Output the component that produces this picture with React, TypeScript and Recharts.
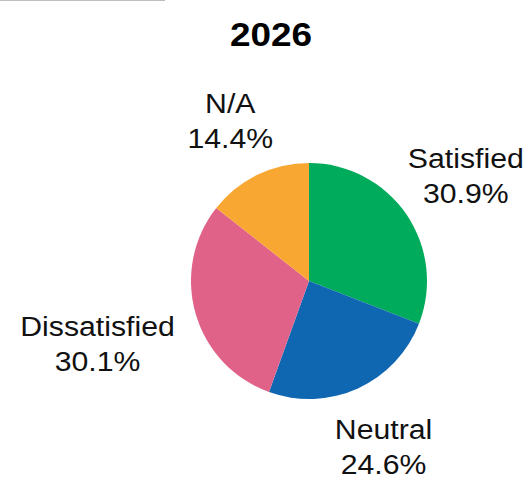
import React from "react";
import { PieChart, Pie, Cell } from "recharts";

const categories = ["Satisfied", "Neutral", "Dissatisfied", "N/A"];
const shares = [30.9, 24.6, 30.1, 14.4];
const colors = ["#00AB5B", "#0F66B1", "#E06288", "#F8A733"];

const data = categories.map((name, i) => ({ name, value: shares[i] }));

const RAD = Math.PI / 180;
const FONT = "'Liberation Sans', Arial, sans-serif";
// the source font renders a little wider than Liberation Sans
const WIDEN = 1.12;

const renderLabel = (props: any) => {
  const { cx, cy, midAngle, outerRadius, name, value } = props;
  // longer names sit a bit further out so they clear the pie
  const dist = outerRadius + 62 + Math.max(0, name.length - 8) * 10;
  const x = cx + dist * Math.cos(-midAngle * RAD);
  const y = cy + dist * Math.sin(-midAngle * RAD);
  return (
    <g transform={`translate(${x},${y}) scale(${WIDEN},1)`}>
      <text x={0} y={0} textAnchor="middle" fill="#111" fontSize={27} fontFamily={FONT}>
        <tspan x={0} dy={-6}>{name}</tspan>
        <tspan x={0} dy={35}>{`${value.toFixed(1)}%`}</tspan>
      </text>
    </g>
  );
};

export default function App() {
  return (
    <div
      style={{
        position: "fixed",
        top: 0,
        left: 0,
        width: 532,
        height: 487,
        background: "#fff",
        fontFamily: FONT,
      }}
    >
      <div style={{ position: "absolute", top: 0, left: 0, width: 165, height: 1, background: "#bdbdbd" }} />
      <PieChart width={532} height={487} margin={{ top: 0, right: 0, bottom: 0, left: 0 }}>
        <text
          transform={`translate(271,46) scale(${WIDEN},1)`}
          textAnchor="middle"
          fontSize={33}
          fontWeight="bold"
          fill="#000"
          fontFamily={FONT}
        >
          2026
        </text>
        <Pie
          data={data}
          dataKey="value"
          nameKey="name"
          cx={309}
          cy={281}
          outerRadius={118}
          startAngle={90}
          endAngle={-270}
          stroke="none"
          label={renderLabel}
          labelLine={false}
          isAnimationActive={false}
        >
          {data.map((d, i) => (
            <Cell key={d.name} fill={colors[i]} />
          ))}
        </Pie>
      </PieChart>
    </div>
  );
}
